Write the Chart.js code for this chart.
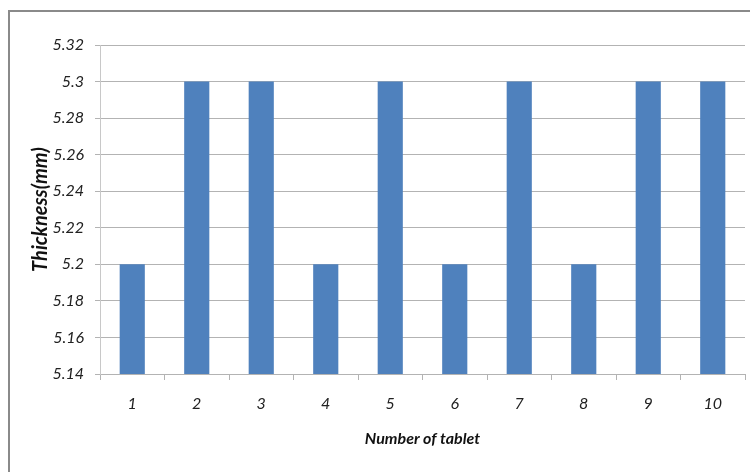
<!DOCTYPE html>
<html>
<head>
<meta charset="utf-8">
<script src="https://cdn.jsdelivr.net/npm/chart.js@4/dist/chart.umd.min.js"></script>
<style>
  html, body { margin: 0; padding: 0; background: #fff; }
  #wrap { position: relative; width: 750px; height: 472px; }
  #frame { position: absolute; left: 8px; top: 10px; right: -4px; bottom: -4px;
           border-left: 2px solid #8a8a8a; border-top: 2px solid #8a8a8a; }
  canvas { position: absolute; left: 0; top: 0; }
</style>
</head>
<body>
<div id="wrap">
  <div id="frame"></div>
  <canvas id="c" width="750" height="472"></canvas>
</div>
<script>
// Tablet thickness per tablet number
const tablets = ['1', '2', '3', '4', '5', '6', '7', '8', '9', '10'];
const thickness = [5.2, 5.3, 5.3, 5.2, 5.3, 5.2, 5.3, 5.2, 5.3, 5.3];
const yMin = 5.14;
const yMax = 5.32;
const yStep = 0.02;

const gridGray = '#b3b3b3';
const axisFont = { family: 'Lato', size: 16, style: 'italic' };
const xTitleFont = { family: 'Lato', size: 16, style: 'italic', weight: 'bold' };
const yTitleFont = { family: 'Lato', size: 20, style: 'italic', weight: 'bold' };

new Chart(document.getElementById('c'), {
  type: 'bar',
  data: {
    labels: tablets,
    datasets: [{
      data: thickness,
      backgroundColor: '#4f81bd',
      borderWidth: 0,
      barPercentage: 0.39,
      categoryPercentage: 1.0
    }]
  },
  options: {
    responsive: false,
    animation: false,
    layout: { padding: { left: 0, right: 5, top: 45, bottom: 0 } },
    plugins: { legend: { display: false }, tooltip: { enabled: false } },
    scales: {
      x: {
        offset: true,
        grid: { drawOnChartArea: false, offset: true, tickLength: 6, color: gridGray },
        border: { display: true, color: gridGray },
        ticks: { color: '#222', font: axisFont, padding: 14, maxRotation: 0 },
        title: { display: true, text: 'Number of tablet', color: '#111', font: xTitleFont,
                 padding: { top: 0, bottom: 24 } },
        afterFit: (s) => { s.height = 98; }
      },
      y: {
        min: yMin,
        max: yMax,
        grid: { color: gridGray, tickLength: 5 },
        border: { display: true, color: '#c8c8c8' },
        ticks: {
          stepSize: yStep, color: '#222', font: axisFont, padding: 11,
          callback: (v) => String(Number(v.toFixed(2)))
        },
        title: { display: true, text: 'Thickness(mm)', color: '#111', font: yTitleFont,
                 padding: { top: 29, bottom: 0 } },
        afterFit: (s) => { s.width = 100; }
      }
    }
  }
});
</script>
</body>
</html>
